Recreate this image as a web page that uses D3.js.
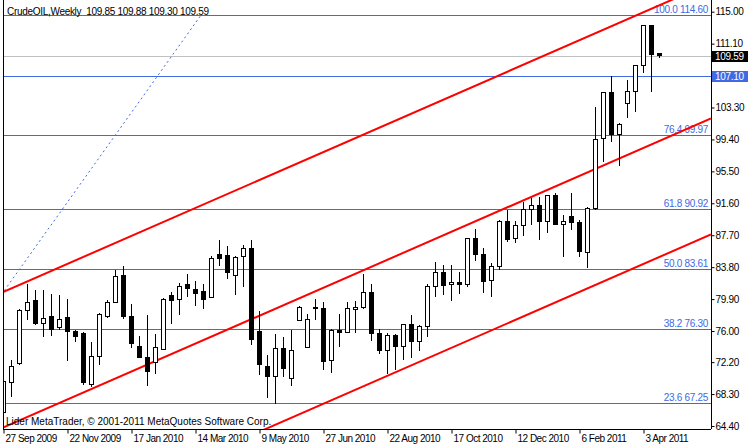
<!DOCTYPE html>
<html>
<head>
	<meta charset="utf-8">
	<script src="https://cdn.jsdelivr.net/npm/d3@7"></script>
	<title>CrudeOIL Weekly</title>
	<style type="text/css">
		body {
			margin: 0;
			background: #fff;
		}
		text {
			font-family: Tahoma, "Liberation Sans", sans-serif;
			font-size: 10px;
			letter-spacing: -0.3px;
		}
		text.copy {
			letter-spacing: 0;
		}
	</style>
</head>
<body>
	<div id="chart"></div>

	<script type="text/javascript">
		// weekly bars
		var opens  = [66.1,69.7,72.0,78.5,79.7,76.9,77.8,76.4,77.7,76.0,75.7,69.5,72.9,77.8,79.5,82.8,77.8,74.1,72.8,72.1,
		              73.8,80.3,79.8,81.7,81.1,80.8,80.1,85.3,85.2,82.8,85.1,86.1,76.0,71.7,70.4,73.9,70.2,77.3,74.0,78.9,
		              78.8,72.4,76.1,75.8,78.6,78.9,80.7,75.7,73.6,75.4,74.1,76.8,74.7,76.6,81.4,83.2,81.7,81.9,81.7,87.3,
		              85.4,82.2,83.9,89.4,87.3,88.9,90.8,91.3,89.4,92.5,89.0,90.0,89.3,85.6,91.0,99.5,105.1,100.0,103.8,105.3,
		              108.4,113.3,109.85];
		var highs  = [71.4,72.5,78.7,81.8,81.0,81.0,80.5,80.4,79.9,76.1,75.9,74.7,78.2,79.8,83.5,83.9,79.3,75.4,78.0,75.6,
		              80.0,80.8,81.9,83.0,82.1,81.8,85.2,87.1,86.4,85.2,86.5,87.1,78.4,73.1,75.6,75.3,76.1,79.1,78.1,79.9,
		              79.6,76.3,78.1,79.6,79.7,83.0,81.8,76.3,75.7,75.6,76.9,78.0,76.7,81.7,84.4,84.1,84.1,83.2,87.4,88.5,
		              86.1,84.3,89.6,90.8,89.4,91.7,92.2,92.4,92.6,92.9,90.2,92.8,89.5,91.1,103.4,105.2,107.1,101.4,106.6,108.5,
		              113.4,113.4,109.88];
		var lows   = [64.7,67.9,71.9,77.4,76.7,75.3,75.4,76.1,72.3,74.7,69.4,69.2,71.9,77.6,79.4,77.5,73.9,72.7,69.3,70.7,
		              73.7,76.9,77.9,80.2,79.1,78.7,80.0,84.0,82.4,80.4,81.4,74.3,70.6,67.8,67.1,70.4,69.3,77.3,73.9,77.3,
		              71.2,70.9,74.1,75.7,75.8,78.7,74.8,73.2,70.8,71.3,72.5,72.7,73.5,75.3,80.2,80.4,79.7,80.5,81.4,84.5,
		              80.6,80.2,83.4,86.9,86.8,87.6,88.9,87.1,88.0,88.9,85.0,88.3,85.0,83.7,90.8,96.6,99.1,96.1,102.0,102.7,
		              107.5,105.2,109.30];
		var closes = [69.8,71.7,78.5,79.5,76.9,77.5,76.2,77.4,75.9,75.3,69.7,72.9,78.0,79.5,82.6,77.8,74.5,72.8,71.0,74.0,
		              79.8,79.7,81.4,81.2,80.6,79.9,84.8,84.9,83.2,85.0,86.1,75.0,71.9,70.4,73.9,71.4,73.6,78.9,77.4,78.7,
		              72.3,76.1,75.8,78.8,78.9,80.7,75.7,73.6,75.4,74.1,76.8,74.7,76.6,81.4,83.2,81.6,81.9,81.7,87.3,85.4,
		              82.1,83.9,89.4,87.2,88.9,90.8,91.3,89.4,92.5,89.0,89.4,89.3,85.7,91.0,99.4,105.1,100.0,101.2,105.3,108.4,
		              113.3,109.8,109.59];

		// one label every 8 bars
		var dateLabels = ["27 Sep 2009","22 Nov 2009","17 Jan 2010","14 Mar 2010","9 May 2010","27 Jun 2010",
		                  "22 Aug 2010","17 Oct 2010","12 Dec 2010","6 Feb 2011","3 Apr 2011"];
		var priceTicks = [115.00,111.10,107.20,103.30,99.40,95.50,91.60,87.70,83.80,79.90,76.00,72.20,68.30,64.40];

		var fibRatios = ["100.0","76.4","61.8","50.0","38.2","23.6"];
		var fibPrices = [114.60,99.97,90.92,83.61,76.30,67.25];
		var fibTrend  = [[-20.6,52.62],[24.7,114.60]];   // [bar, price]
		var hLevel = 107.10;
		var bid = 109.59;
		var channel = [
			[[0,80.79],[82,115.79]],
			[[0,64.22],[82,99.22]],
			[[0,50.05],[82,85.05]]
		];

		var W = 750, H = 447;
		var left = 3, right = 711, bottom = 429;
		var blue = "#4169e1";

		var svg = d3.select("#chart").append("svg")
			.attr("width", W)
			.attr("height", H);

		var x = d3.scaleLinear().domain([0, 82]).range([3.5, 659.5]);
		var y = d3.scaleLinear().domain([64.4, 115]).range([426, 11.7]);

		svg.append("clipPath").attr("id", "plot")
			.append("rect")
			.attr("x", left).attr("y", 0)
			.attr("width", right - left).attr("height", bottom);

		var g = svg.append("g").attr("clip-path", "url(#plot)");

		// fibo levels and the horizontal line
		g.selectAll("line.fib")
			.data(fibPrices.concat([hLevel]))
			.enter().append("line")
			.attr("x1", left).attr("x2", right)
			.attr("y1", function(d) { return Math.round(y(d)) + 0.5; })
			.attr("y2", function(d) { return Math.round(y(d)) + 0.5; })
			.style("stroke", blue)
			.style("stroke-width", 1);

		// bid line
		g.append("line")
			.attr("x1", left).attr("x2", right)
			.attr("y1", Math.round(y(bid)) + 0.5).attr("y2", Math.round(y(bid)) + 0.5)
			.style("stroke", "#c0c0c0");

		// fibo trend line (dotted)
		g.append("line")
			.attr("x1", x(fibTrend[0][0])).attr("y1", y(fibTrend[0][1]))
			.attr("x2", x(fibTrend[1][0])).attr("y2", y(fibTrend[1][1]))
			.style("stroke", blue)
			.style("stroke-dasharray", "2,3");

		g.selectAll("text.fib")
			.data(fibPrices)
			.enter().append("text")
			.attr("x", right - 3)
			.attr("y", function(d) { return Math.round(y(d)) - 2; })
			.style("text-anchor", "end")
			.style("fill", blue)
			.text(function(d, i) { return fibRatios[i] + " " + d.toFixed(2); });

		// channel lines, extended across the plot
		var x0 = x.invert(left), x1 = x.invert(right);
		channel.forEach(function(p) {
			var k = (p[1][1] - p[0][1]) / (p[1][0] - p[0][0]);
			g.append("line")
				.attr("x1", x(x0)).attr("y1", y(p[0][1] + k * (x0 - p[0][0])))
				.attr("x2", x(x1)).attr("y2", y(p[0][1] + k * (x1 - p[0][0])))
				.style("stroke", "red")
				.style("stroke-width", 2);
		});

		// candles
		var bars = g.selectAll("g.bar")
			.data(opens)
			.enter().append("g")
			.style("shape-rendering", "crispEdges");

		bars.append("line")
			.attr("x1", function(d, i) { return x(i); })
			.attr("x2", function(d, i) { return x(i); })
			.attr("y1", function(d, i) { return y(highs[i]); })
			.attr("y2", function(d, i) { return y(lows[i]); })
			.style("stroke", "#000");

		bars.append("rect")
			.attr("x", function(d, i) { return x(i) - 2; })
			.attr("width", 4)
			.attr("y", function(d, i) { return y(Math.max(d, closes[i])); })
			.attr("height", function(d, i) { return Math.max(1, Math.abs(y(d) - y(closes[i]))); })
			.style("fill", function(d, i) { return closes[i] >= d ? "#fff" : "#000"; })
			.style("stroke", "#000");

		// frame
		svg.append("line").attr("x1", left + 0.5).attr("x2", left + 0.5).attr("y1", 0).attr("y2", bottom)
			.style("stroke", "#000");

		// price axis
		var yAxis = d3.axisRight(y)
			.tickValues(priceTicks)
			.tickFormat(d3.format(".2f"))
			.tickSize(3)
			.tickSizeOuter(0);
		var ya = svg.append("g")
			.attr("transform", "translate(" + (right + 0.5) + ",0)")
			.call(yAxis);
		ya.select(".domain").attr("d", "M0,0V" + bottom);
		ya.attr("font-family", null).attr("font-size", null);
		ya.selectAll("text").attr("x", 4).attr("fill", "#000");

		// current price and horizontal line labels
		[[bid, "#000"], [hLevel, blue]].forEach(function(p) {
			var yy = Math.round(y(p[0]));
			svg.append("rect")
				.attr("x", right + 1).attr("y", yy - 5)
				.attr("width", 36).attr("height", 11)
				.style("fill", p[1]);
			svg.append("text")
				.attr("x", right + 4).attr("y", yy)
				.attr("dy", "0.35em")
				.style("fill", "#fff")
				.text(p[0].toFixed(2));
		});

		// time axis
		var xAxis = d3.axisBottom(x)
			.tickValues(dateLabels.map(function(d, i) { return i * 8; }))
			.tickFormat(function(d, i) { return dateLabels[i]; })
			.tickSize(4)
			.tickSizeOuter(0);
		var xa = svg.append("g")
			.attr("transform", "translate(0," + (bottom + 0.5) + ")")
			.call(xAxis);
		xa.select(".domain").attr("d", "M" + left + ",0H" + right);
		xa.attr("font-family", null).attr("font-size", null);
		xa.selectAll("text").attr("fill", "#000").attr("y", 5).attr("dy", "0.71em")
			.attr("x", 1.5).style("text-anchor", "start").style("letter-spacing", "-0.5px");

		// labels
		svg.append("text")
			.attr("x", 7).attr("y", 15)
			.text("CrudeOIL,Weekly  109.85 109.88 109.30 109.59")
			.style("white-space", "pre");

		svg.append("text")
			.attr("class", "copy")
			.attr("x", 6).attr("y", 425)
			.text("Lider MetaTrader, © 2001-2011 MetaQuotes Software Corp.");
	</script>
</body>
</html>
